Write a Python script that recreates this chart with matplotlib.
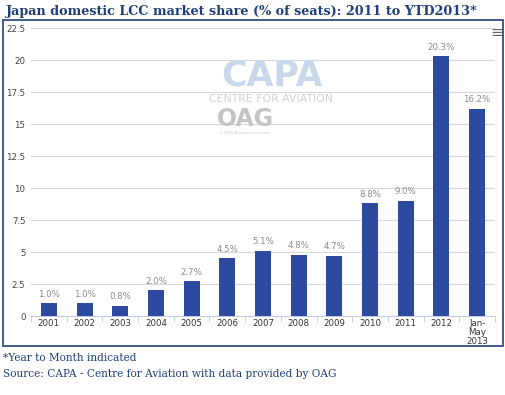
import numpy as np
import matplotlib.pyplot as plt
from matplotlib.patches import Rectangle

# data
categories = ['2001', '2002', '2003', '2004', '2005', '2006', '2007',
              '2008', '2009', '2010', '2011', '2012', 'Jan-\nMay\n2013']
share = [1.0, 1.0, 0.8, 2.0, 2.7, 4.5, 5.1, 4.8, 4.7, 8.8, 9.0, 20.3, 16.2]
yticks = [0, 2.5, 5, 7.5, 10, 12.5, 15, 17.5, 20, 22.5]
ytick_labels = ['0', '2.5', '5', '7.5', '10', '12.5', '15', '17.5', '20', '22.5']

W, H = 506, 395
fig = plt.figure(figsize=(W / 100, H / 100), dpi=100)

navy = '#1f3f7a'
bar_col = '#2c4aa0'

# title
fig.text(6 / W, 1 - 11 / H, 'Japan domestic LCC market share (% of seats): 2011 to YTD2013*',
         family='DejaVu Serif', weight='bold', fontsize=9.2, color=navy, va='center', ha='left')

# frame box
fig.patches.append(Rectangle((3 / W, 1 - 346 / H), 500 / W, 326 / H, transform=fig.transFigure,
                             fill=False, edgecolor=navy, linewidth=1.2))

ax = fig.add_axes([31 / W, 1 - 316 / H, 464 / W, 288 / H])
x = np.arange(len(categories))
ax.bar(x, share, width=0.45, color=bar_col, zorder=3)
for xi, v in zip(x, share):
    ax.text(xi, v + 0.35, f'{v:.1f}%', ha='center', va='bottom', fontsize=6.2, color='#8a8a8a')

ax.set_xlim(-0.5, len(categories) - 0.5)
ax.set_ylim(0, 22.5)
ax.set_yticks(yticks)
ax.set_yticklabels(ytick_labels)
ax.set_xticks(x)
ax.set_xticklabels(categories, linespacing=0.95)
ax.tick_params(axis='y', length=0, labelsize=6.2, labelcolor='#444444', pad=4)
ax.set_xticks(np.arange(len(categories) + 1) - 0.5, minor=True)
ax.tick_params(axis='x', which='minor', length=4, color='#c0cce0')
ax.tick_params(axis='x', which='major', length=0, labelsize=6.2, labelcolor='#333333', pad=2.5)
ax.grid(axis='y', color='#d8d8d8', linewidth=0.8, zorder=0)
for s in ['top', 'right', 'left']:
    ax.spines[s].set_visible(False)
ax.spines['bottom'].set_color('#c0cce0')

# watermark
fig.text(272 / W, 1 - 76 / H, 'CAPA', fontsize=25, weight='bold', color='#c9d7ea',
         ha='center', va='center', family='DejaVu Sans')
fig.text(271 / W, 1 - 99 / H, 'CENTRE FOR AVIATION', fontsize=7.8, color='#d2d2d2',
         ha='center', va='center')
fig.text(245 / W, 1 - 119 / H, 'OAG', fontsize=17, weight='bold', color='#c4c4c4',
         ha='center', va='center')
fig.text(245 / W, 1 - 133 / H, 'a UBM Aviation business', fontsize=3, color='#d0d0d0',
         ha='center', va='center')

# menu icon
fig.text(497 / W, 1 - 33 / H, '\u2261', fontsize=11, color='#666666', ha='center', va='center')

# footer
fig.text(3 / W, 1 - 358 / H, '*Year to Month indicated', family='DejaVu Serif',
         fontsize=7.6, color=navy, va='center')
fig.text(3 / W, 1 - 374 / H, 'Source: CAPA - Centre for Aviation with data provided by OAG',
         family='DejaVu Serif', fontsize=7.6, color=navy, va='center')

fig.savefig('out.png', dpi=100)
